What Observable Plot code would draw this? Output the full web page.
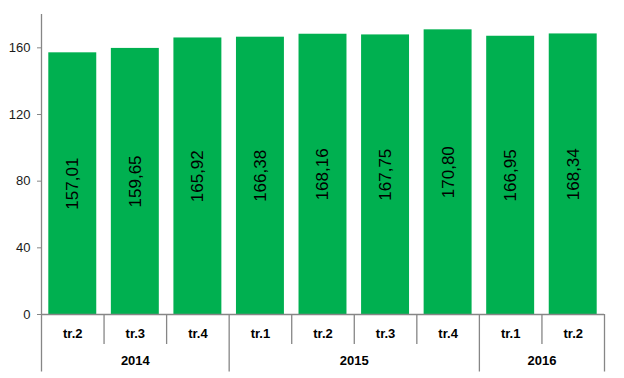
<!DOCTYPE html>
<html>
<head>
<meta charset="utf-8">
<script src="https://cdn.jsdelivr.net/npm/d3@7"></script>
<script src="https://cdn.jsdelivr.net/npm/@observablehq/plot@0.6"></script>
<style>
  html, body { margin: 0; padding: 0; background: #fff; }
</style>
</head>
<body>
<div id="chart"></div>
<script>
const quarters = ["tr.2", "tr.3", "tr.4", "tr.1", "tr.2", "tr.3", "tr.4", "tr.1", "tr.2"];
const years = ["2014", "2014", "2014", "2015", "2015", "2015", "2015", "2016", "2016"];
const values = [157.01, 159.65, 165.92, 166.38, 168.16, 167.75, 170.80, 166.95, 168.34];
const yTicks = [0, 40, 80, 120, 160];

const data = values.map((v, i) => ({
  i, value: v, quarter: quarters[i], year: years[i],
  label: v.toFixed(2).replace(".", ",")
}));

// year groups
const groups = [];
years.forEach((y, i) => {
  const g = groups[groups.length - 1];
  if (g && g.year === y) g.end = i + 1;
  else groups.push({year: y, start: i, end: i + 1});
});
const yearBounds = [0, ...groups.map(g => g.end)];
const quarterBounds = d3.range(1, values.length).filter(b => !yearBounds.includes(b));

const axisColor = "#868686";
const green = "#00B050";

const chart = Plot.plot({
  width: 624,
  height: 378,
  marginTop: 14,
  marginBottom: 64,
  marginLeft: 41,
  marginRight: 20,
  style: {fontFamily: "'Liberation Sans', Arial, sans-serif", fontSize: "13px", background: "#fff"},
  x: {type: "linear", domain: [0, values.length], axis: null},
  y: {domain: [0, 180], axis: null},
  marks: [
    Plot.rectY(data, {x1: d => d.i, x2: d => d.i + 1, y1: 0, y2: "value", fill: green, insetLeft: 7.3, insetRight: 7.3}),
    Plot.axisY({ticks: yTicks, tickSize: 4, tickPadding: 7, stroke: axisColor, fill: "#1a1a1a", fontSize: 13, label: null}),
    Plot.ruleY([0], {stroke: axisColor, strokeWidth: 1.3}),
    Plot.ruleX(yearBounds, {y1: 180, y2: -34.5, stroke: axisColor, strokeWidth: 1.3, filter: d => d === 0}),
    Plot.ruleX(yearBounds, {y1: 0, y2: -34.5, stroke: axisColor, strokeWidth: 1.3, filter: d => d !== 0}),
    Plot.ruleX(quarterBounds, {y1: 0, y2: -18, stroke: axisColor, strokeWidth: 1.3}),
    Plot.text(data, {x: d => d.i + 0.5, y: -11.5, text: "quarter", fontWeight: "bold", fontSize: 13, fill: "#000"}),
    Plot.text(groups, {x: d => (d.start + d.end) / 2, y: -28, text: "year", fontWeight: "bold", fontSize: 13, fill: "#000"}),
    Plot.text(data, {x: d => d.i + 0.5, y: d => d.value / 2, text: "label", rotate: -90, fontSize: 17, fill: "#000"})
  ]
});
document.getElementById("chart").appendChild(chart);
</script>
</body>
</html>
